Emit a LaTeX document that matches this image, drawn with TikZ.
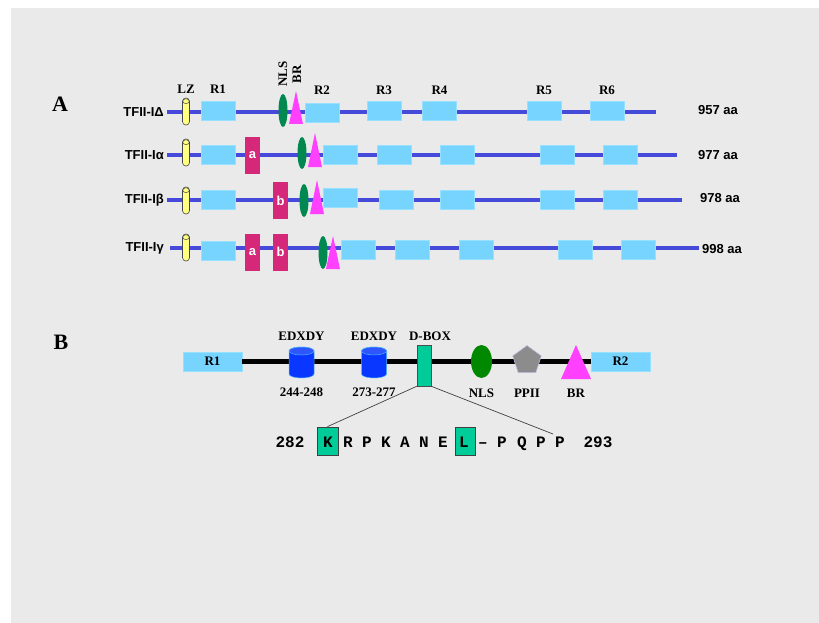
\documentclass[tikz,border=0pt]{standalone}
\usepackage{fontspec}
\setmainfont{Liberation Serif}
\setsansfont{Liberation Sans}
\setmonofont{Liberation Mono}
\usetikzlibrary{shapes.geometric}

\definecolor{bggray}{RGB}{234,234,234}
\definecolor{chainblue}{RGB}{70,74,218}
\definecolor{repblue}{RGB}{118,212,255}
\definecolor{repedge}{RGB}{150,225,255}
\definecolor{splicemag}{RGB}{214,40,120}
\definecolor{nlsteal}{RGB}{0,136,80}
\definecolor{nlsgreen}{RGB}{0,136,0}
\definecolor{brpink}{RGB}{255,64,255}
\definecolor{lzyellow}{RGB}{255,255,130}
\definecolor{lzline}{RGB}{70,70,70}
\definecolor{dboxteal}{RGB}{0,204,153}
\definecolor{cylblue}{RGB}{10,55,255}
\definecolor{cylrim}{RGB}{70,180,255}
\definecolor{ppgray}{RGB}{140,140,140}
\definecolor{ppedge}{RGB}{190,190,230}

\newcommand\fsLab{\fontsize{13}{15}\selectfont}
\newcommand\fsBig{\fontsize{22}{24}\selectfont}
\newcommand\fsSeq{\fontsize{16}{18}\selectfont}
% B-site triangle: apex x, apex y, base y, half width
\newcommand\brmark[4]{\fill[brpink] (#1-#4,#3) -- (#1,#2) -- (#1+#4,#3) -- cycle;}

\tikzset{
  chain/.style={line width=4pt, draw=chainblue},
  bchain/.style={line width=4.5pt, draw=black},
  rbox/.style={rectangle, fill=repblue, draw=repedge, line width=0.4pt,
    minimum width=34pt, minimum height=19pt, inner sep=0pt, outer sep=0pt},
  sbox/.style={rectangle, fill=splicemag, minimum width=15pt, minimum height=37pt,
    inner sep=0pt, text=white, font=\sffamily\bfseries\fsLab},
  nlsA/.style={ellipse, fill=nlsteal, minimum width=9pt, minimum height=33pt, inner sep=0pt},
  rowlab/.style={anchor=east, inner sep=0pt, font=\sffamily\bfseries\fsLab},
  aalab/.style={anchor=west, inner sep=0pt, font=\sffamily\bfseries\fsLab},
  domlab/.style={inner sep=0pt, font=\bfseries\fsLab},
  panel/.style={inner sep=0pt, font=\bfseries\fsBig},
  seq/.style={anchor=base, inner sep=0pt, font=\ttfamily\bfseries\fsSeq},
  hilite/.style={rectangle, fill=dboxteal, draw=black!75, line width=0.8pt,
    minimum width=21pt, minimum height=28pt, inner sep=0pt},
  lead/.style={draw=black!75, line width=0.7pt},
  pics/lz/.style={code={
    \draw[lzline, fill=lzyellow, line width=0.6pt, rounded corners=3.4pt]
      (-3.5,-13.5) rectangle (3.5,13.5);
    \draw[lzline, line width=0.5pt] (0,-10.3) ellipse [x radius=3.3pt, y radius=2.4pt];
  }},
  pics/cyl/.style={code={
    \path[fill=cylblue, draw=cylrim, line width=0.5pt]
      (-12.5,-11.5) -- (-12.5,11.5)
      arc[start angle=180, end angle=360, x radius=12.5pt, y radius=4pt]
      -- (12.5,-11.5)
      arc[start angle=0, end angle=180, x radius=12.5pt, y radius=4pt] -- cycle;
    \draw[cylrim, fill=cylblue!85!white, line width=0.5pt]
      (0,-11.5) ellipse [x radius=12.5pt, y radius=4pt];
  }},
}

\begin{document}
\begin{tikzpicture}[x=1pt, y=-1pt]
\useasboundingbox (0,0) rectangle (819,623);
\fill[white] (0,0) rectangle (819,623);
\fill[bggray] (11,8) rectangle (819,623);

% ---------- panel A ----------
\node[panel] (pA) at (60,104) {A};

% TFII-I Delta
\node[rowlab] (lD) at (164,112) {TFII-IΔ};
\coordinate (d0) at (167,112); \coordinate (d1) at (656,112);
\draw[chain] (d0) -- (d1);
\pic at (186,111.5) {lz};
\node[rbox] (dR1) at (218,110.5) {};
\node[nlsA] (dN) at (283,110.5) {};
\brmark{296}{91}{124}{7}
\node[rbox] (dR2) at (322,113) {};
\node[rbox] (dR3) at (384,110.5) {};
\node[rbox] (dR4) at (439.5,110.5) {};
\node[rbox] (dR5) at (544,110.5) {};
\node[rbox] (dR6) at (607,110.5) {};
\node[domlab] (tLZ) at (186,89) {LZ};
\node[domlab] (tR1) at (218,89) {R1};
\node[domlab] (tR2) at (322,90) {R2};
\node[domlab] (tR3) at (384,90) {R3};
\node[domlab] (tR4) at (439.5,90) {R4};
\node[domlab] (tR5) at (544,90) {R5};
\node[domlab] (tR6) at (607,90) {R6};
\node[domlab, rotate=90] (tNLS) at (283,74) {NLS};
\node[domlab, rotate=90] (tBR) at (297,74) {BR};
\node[aalab] (aD) at (698,110) {957 aa};

% TFII-I alpha
\node[rowlab] (lA) at (164,155) {TFII-Iα};
\coordinate (a0) at (167,155); \coordinate (a1) at (677,155);
\draw[chain] (a0) -- (a1);
\pic at (186,152.5) {lz};
\node[rbox] (aR1) at (218,155) {};
\node[sbox] (aSa) at (252.5,155.5) {a};
\node[nlsA, minimum height=32pt] (aN) at (302,153) {};
\brmark{315}{133}{167}{7}
\node[rbox] (aR2) at (340,155) {};
\node[rbox] (aR3) at (394,155) {};
\node[rbox] (aR4) at (457.5,155) {};
\node[rbox] (aR5) at (557,155) {};
\node[rbox] (aR6) at (620,155) {};
\node[aalab] (aA) at (698,155) {977 aa};

% TFII-I beta
\node[rowlab] (lB) at (164,200) {TFII-Iβ};
\coordinate (b0) at (167,200); \coordinate (b1) at (682,200);
\draw[chain] (b0) -- (b1);
\pic at (186,200.5) {lz};
\node[rbox] (bR1) at (218,200) {};
\node[sbox] (bSb) at (280.5,200.5) {b};
\node[nlsA] (bN) at (304,200.5) {};
\brmark{317}{180}{214}{7}
\node[rbox] (bR2) at (340,197.5) {};
\node[rbox] (bR3) at (396.5,200) {};
\node[rbox] (bR4) at (457.5,200) {};
\node[rbox] (bR5) at (557,200) {};
\node[rbox] (bR6) at (620,200) {};
\node[aalab] (aB) at (700,198) {978 aa};

% TFII-I gamma
\node[rowlab] (lG) at (164,248) {TFII-Iγ};
\coordinate (g0) at (170,248); \coordinate (g1) at (699,248);
\draw[chain] (g0) -- (g1);
\pic at (186,247.5) {lz};
\node[rbox] (gR1) at (218,251) {};
\node[sbox] (gSa) at (252.5,252) {a};
\node[sbox] (gSb) at (280.5,252) {b};
\node[nlsA] (gN) at (323,252.5) {};
\brmark{333}{236}{269}{7}
\node[rbox] (gR2) at (358.5,250) {};
\node[rbox] (gR3) at (412,250) {};
\node[rbox] (gR4) at (476,250) {};
\node[rbox] (gR5) at (575,250) {};
\node[rbox] (gR6) at (638.5,250) {};
\node[aalab] (aG) at (702,249) {998 aa};

% ---------- panel B ----------
\node[panel] (pB) at (61,342) {B};

\node[rbox, minimum width=59pt, font=\bfseries\fsLab] (xR1) at (212.5,361.5) {R1};
\node[rbox, minimum width=59pt, font=\bfseries\fsLab] (xR2) at (620.5,361.5) {R2};
\draw[bchain] (xR1.east) -- (xR2.west);

\pic at (301.5,362.5) {cyl};
\pic at (374,362.5) {cyl};
\node[domlab] (e1) at (301.5,336) {EDXDY};
\node[domlab] (e2) at (374,336) {EDXDY};
\node[domlab] (n1) at (301.5,392) {244-248};
\node[domlab] (n2) at (374,392) {273-277};

\node[rectangle, fill=dboxteal, draw=black!70, line width=0.6pt,
      minimum width=14pt, minimum height=41pt, inner sep=0pt] (dbox) at (424,365.5) {};
\node[domlab] (tD) at (430,336) {D-BOX};

\node[ellipse, fill=nlsgreen, minimum width=21pt, minimum height=33pt, inner sep=0pt]
  (xN) at (481.5,361.5) {};
\node[domlab] (tN) at (481.5,393) {NLS};

\node[regular polygon, regular polygon sides=5, fill=ppgray, draw=ppedge, line width=0.6pt,
      minimum size=30pt, inner sep=0pt] (xP) at (527,360.5) {};
\node[domlab] (tP) at (527,393) {PPII};

\brmark{576}{345}{379}{15}
\node[domlab] (tB) at (576,393) {BR};

% D-box sequence, letters aligned on a common baseline
\node[hilite] (kbox) at (327.5,441) {};
\node[hilite, minimum width=20pt] (lbox) at (465,441) {};
\node[seq] (s0) at (290,447) {282};
\node[seq] (s1) at (328,447) {K};
\node[seq] (s2) at (348,447) {R};
\node[seq] (s3) at (367,447) {P};
\node[seq] (s4) at (386,447) {K};
\node[seq] (s5) at (405,447) {A};
\node[seq] (s6) at (424,447) {N};
\node[seq] (s7) at (443,447) {E};
\node[seq] (s8) at (464,447) {L};
\node[seq] (s9) at (483,447) {–};
\node[seq] (s10) at (502,447) {P};
\node[seq] (s11) at (522,447) {Q};
\node[seq] (s12) at (541,447) {P};
\node[seq] (s13) at (560,447) {P};
\node[seq] (s14) at (598,447) {293};

\coordinate (seqend) at (553,434);
\draw[lead] (dbox.south west) -- (kbox.north);
\draw[lead] (dbox.south east) -- (seqend);
\end{tikzpicture}
\end{document}
